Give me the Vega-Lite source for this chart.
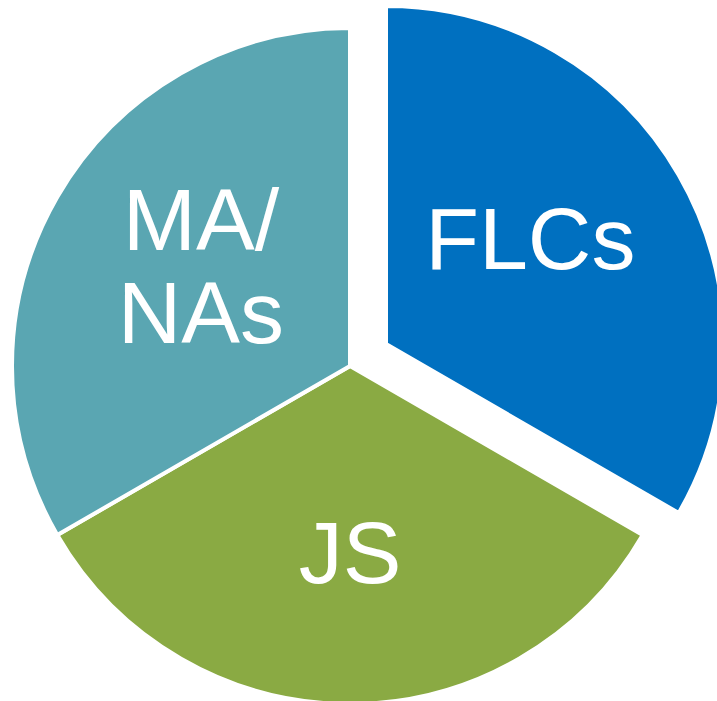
{
  "$schema": "https://vega.github.io/schema/vega-lite/v6.json",
  "width": 700,
  "height": 670,
  "autosize": {"type": "none"},
  "padding": {"left": 0, "right": 17, "top": 31, "bottom": 0},
  "background": "white",
  "view": {"stroke": null},
  "config": {"font": "Liberation Sans"},
  "data": {
    "values": [
      {"category": "FLCs", "label": "FLCs", "share": 1, "order": 1},
      {"category": "JS", "label": "JS", "share": 1, "order": 2},
      {"category": "MA/NAs", "label": "MA/\nNAs", "share": 1, "order": 3}
    ]
  },
  "encoding": {
    "theta": {"field": "share", "type": "quantitative", "stack": true},
    "order": {"field": "order", "type": "quantitative"}
  },
  "layer": [
    {
      "mark": {"type": "arc", "outerRadius": 338, "stroke": "white", "strokeWidth": 4},
      "encoding": {
        "color": {
          "field": "category", "type": "nominal",
          "scale": {"domain": ["FLCs", "JS", "MA/NAs"], "range": ["#0070C0", "#8AAA43", "#5AA6B2"]},
          "legend": null
        },
        "opacity": {"condition": {"test": "datum.category === 'FLCs'", "value": 0}, "value": 1}
      }
    },
    {
      "mark": {"type": "arc", "outerRadius": 338, "stroke": "white", "strokeWidth": 4, "xOffset": 36, "yOffset": -22},
      "encoding": {
        "color": {"field": "category", "type": "nominal", "legend": null},
        "opacity": {"condition": {"test": "datum.category === 'FLCs'", "value": 1}, "value": 0}
      }
    },
    {
      "mark": {"type": "text", "radius": 177, "fontSize": 88, "fill": "white", "align": "center", "baseline": "middle", "lineBreak": "\n", "lineHeight": 93, "xOffset": 27, "yOffset": -35},
      "encoding": {
        "text": {"field": "label"},
        "opacity": {"condition": {"test": "datum.category === 'FLCs'", "value": 1}, "value": 0}
      }
    },
    {
      "mark": {"type": "text", "radius": 178, "fontSize": 88, "fill": "white", "align": "center", "baseline": "middle", "lineBreak": "\n", "lineHeight": 93, "xOffset": 5, "yOffset": -53},
      "encoding": {
        "text": {"field": "label"},
        "opacity": {"condition": {"test": "datum.category === 'MA/NAs'", "value": 1}, "value": 0}
      }
    },
    {
      "mark": {"type": "text", "radius": 182, "fontSize": 88, "fill": "white", "align": "center", "baseline": "middle", "lineBreak": "\n", "lineHeight": 93, "yOffset": 9},
      "encoding": {
        "text": {"field": "label"},
        "opacity": {"condition": {"test": "datum.category === 'JS'", "value": 1}, "value": 0}
      }
    }
  ]
}
